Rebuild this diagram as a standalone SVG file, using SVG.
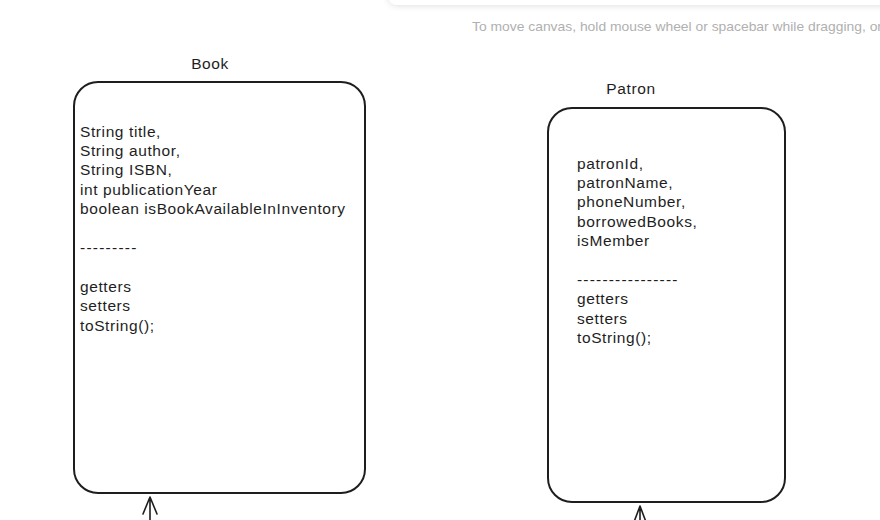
<svg xmlns="http://www.w3.org/2000/svg" width="880" height="520" viewBox="0 0 880 520">
  <defs>
    <filter id="sh" x="-10%" y="-100%" width="120%" height="400%">
      <feDropShadow dx="0" dy="1" stdDeviation="3" flood-color="#000" flood-opacity="0.12"/>
    </filter>
  </defs>
  <style>
    .box { fill: #ffffff; stroke: #1e1e1e; stroke-width: 2; }
    .t { font-family: "Liberation Sans", Arial, sans-serif; font-size: 15.5px; fill: #1e1e1e; letter-spacing: 0.6px; }
    .title { text-anchor: middle; }
    .conn { stroke: #1e1e1e; stroke-width: 1.6; fill: none; stroke-linecap: round; stroke-linejoin: round; }
    .hint { font-family: "Liberation Sans", Arial, sans-serif; font-size: 13.5px; fill: #b0b0b0; }
  </style>
  <rect width="880" height="520" fill="#ffffff"/>

  <g id="toolbar">
    <rect x="388" y="-30" width="530" height="35" rx="9" fill="#ffffff" filter="url(#sh)"/>
    <text class="hint" x="472" y="31" textLength="410" lengthAdjust="spacingAndGlyphs">To move canvas, hold mouse wheel or spacebar while dragging, or</text>
  </g>

  <g id="book">
    <text class="t title" x="210" y="69">Book</text>
    <rect class="box" x="74" y="82" width="291" height="411" rx="24"/>
    <text class="t" x="80" y="137">String title,</text>
    <text class="t" x="80" y="156">String author,</text>
    <text class="t" x="80" y="175">String ISBN,</text>
    <text class="t" x="80" y="195">int publicationYear</text>
    <text class="t" x="80" y="214">boolean isBookAvailableInInventory</text>
    <text class="t" x="80" y="253" textLength="57">---------</text>
    <text class="t" x="80" y="292">getters</text>
    <text class="t" x="80" y="311">setters</text>
    <text class="t" x="80" y="331">toString();</text>
  </g>

  <g id="patron">
    <text class="t title" x="631" y="94">Patron</text>
    <rect class="box" x="548" y="108" width="237" height="394" rx="24"/>
    <text class="t" x="577" y="169">patronId,</text>
    <text class="t" x="577" y="188">patronName,</text>
    <text class="t" x="577" y="207">phoneNumber,</text>
    <text class="t" x="577" y="227">borrowedBooks,</text>
    <text class="t" x="577" y="246">isMember</text>
    <text class="t" x="577" y="285" textLength="101">----------------</text>
    <text class="t" x="577" y="304">getters</text>
    <text class="t" x="577" y="324">setters</text>
    <text class="t" x="577" y="343">toString();</text>
  </g>

  <g id="connectors">
    <path class="conn" d="M150 522 L150 497 M143 514 L150 497 L157 514"/>
    <path class="conn" d="M640 522 L640 506 M634 522 L640 506 L646 522"/>
  </g>
</svg>
